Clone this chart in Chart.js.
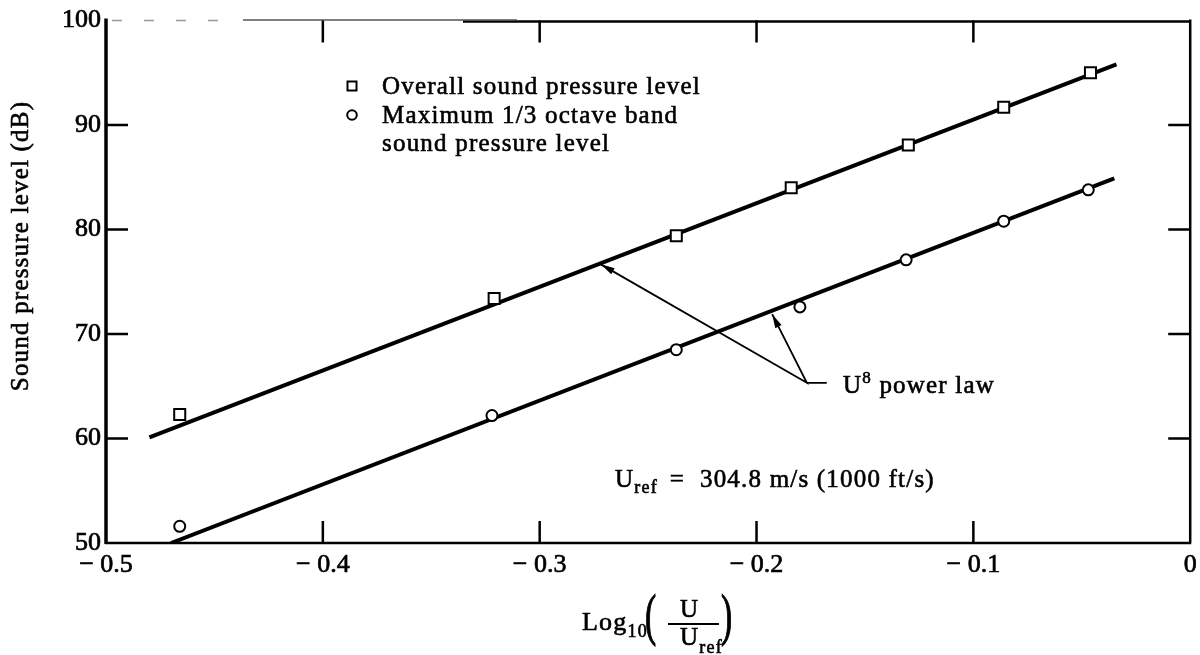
<!DOCTYPE html>
<html>
<head>
<meta charset="utf-8">
<title>Sound pressure level against Log10(U/Uref)</title>
<script src="https://cdn.jsdelivr.net/npm/chart.js@4.4.1/dist/chart.umd.min.js"></script>
<style>
  html, body { margin: 0; padding: 0; background: #fff; }
  #wrap { width: 1200px; height: 655px; }
</style>
</head>
<body>
<div id="wrap"><canvas id="splChart" width="1200" height="655"></canvas></div>
<script>
// values
var overallX = [-0.466, -0.321, -0.237, -0.184, -0.130, -0.086, -0.046];
var overallY = [62.3, 73.4, 79.4, 84.0, 88.1, 91.7, 95.0];
var bandX = [-0.466, -0.322, -0.237, -0.180, -0.131, -0.086, -0.047];
var bandY = [51.6, 62.2, 68.5, 72.6, 77.1, 80.8, 83.8];

// U^8 power law lines, end points
var lawOverallX = [-0.480, -0.034];
var lawOverallY = [60.1, 95.8];
var lawBandX = [-0.470, -0.035];
var lawBandY = [50.0, 84.9];

// pointer lines: tip on upper line, knee, tip on lower line
var arrowX = [-0.2718, -0.1768, -0.1928];
var arrowY = [76.67, 65.33, 71.9];
var stubX = [-0.1768, -0.1676];
var stubY = [65.33, 65.33];

var xTicks = [-0.5, -0.4, -0.3, -0.2, -0.1, 0];
var yTicks = [50, 60, 70, 80, 90, 100];

var SERIF = '"Liberation Serif", "Times New Roman", serif';

function pts(xs, ys) {
  return xs.map(function (x, i) { return { x: x, y: ys[i] }; });
}

// text with a thin outline so it looks as heavy as the printed figure
function txt(ctx, s, x, y, size) {
  ctx.font = size + 'px ' + SERIF;
  ctx.fillText(s, x, y);
  ctx.strokeText(s, x, y);
  return x + ctx.measureText(s).width;
}

// frame, inward ticks, arrow heads and the printed texts
var paperFrame = {
  id: 'paperFrame',
  afterDraw: function (chart) {
    var ctx = chart.ctx, a = chart.chartArea;
    var xs = chart.scales.x, ys = chart.scales.y;
    var i;
    ctx.save();
    ctx.strokeStyle = '#000';
    ctx.fillStyle = '#000';
    ctx.lineCap = 'butt';

    ctx.lineWidth = 3.5;
    ctx.beginPath(); ctx.moveTo(a.left, a.top - 2); ctx.lineTo(a.left, a.bottom + 1); ctx.stroke();
    ctx.lineWidth = 2.5;
    ctx.beginPath();
    ctx.moveTo(a.left - 1, a.bottom); ctx.lineTo(a.right + 1, a.bottom);
    ctx.moveTo(a.right, a.bottom); ctx.lineTo(a.right, a.top - 1);
    ctx.moveTo(a.right + 1, a.top + 1); ctx.lineTo(463, a.top + 1);
    ctx.stroke();
    // worn left part of the top edge
    ctx.lineWidth = 1.5;
    ctx.strokeStyle = '#555';
    ctx.beginPath(); ctx.moveTo(243, a.top - 0.5); ctx.lineTo(517, a.top - 0.5); ctx.stroke();
    ctx.strokeStyle = '#999';
    ctx.setLineDash([10, 22]);
    ctx.beginPath(); ctx.moveTo(112, a.top); ctx.lineTo(230, a.top); ctx.stroke();
    ctx.setLineDash([]);
    ctx.strokeStyle = '#000';

    // inward ticks
    ctx.lineWidth = 2.5;
    ctx.beginPath();
    for (i = 1; i < xTicks.length - 1; i++) {
      var px = xs.getPixelForValue(xTicks[i]);
      ctx.moveTo(px, a.bottom); ctx.lineTo(px, a.bottom - 22);
      ctx.moveTo(px, a.top); ctx.lineTo(px, a.top + 22);
    }
    for (i = 1; i < yTicks.length - 1; i++) {
      var py = ys.getPixelForValue(yTicks[i]);
      ctx.moveTo(a.left, py); ctx.lineTo(a.left + 22, py);
      ctx.moveTo(a.right, py); ctx.lineTo(a.right - 22, py);
    }
    ctx.stroke();

    // arrow heads at both pointer tips
    var kx = xs.getPixelForValue(arrowX[1]), ky = ys.getPixelForValue(arrowY[1]);
    [0, 2].forEach(function (k) {
      var tx = xs.getPixelForValue(arrowX[k]), ty = ys.getPixelForValue(arrowY[k]);
      var ang = Math.atan2(ty - ky, tx - kx);
      ctx.beginPath();
      ctx.moveTo(tx, ty);
      ctx.lineTo(tx - 14 * Math.cos(ang) + 3.5 * Math.sin(ang), ty - 14 * Math.sin(ang) - 3.5 * Math.cos(ang));
      ctx.lineTo(tx - 14 * Math.cos(ang) - 3.5 * Math.sin(ang), ty - 14 * Math.sin(ang) + 3.5 * Math.cos(ang));
      ctx.closePath();
      ctx.fill();
    });

    // legend
    ctx.lineWidth = 2;
    ctx.fillStyle = '#fff';
    ctx.beginPath(); ctx.rect(347.5, 81.5, 9, 9); ctx.fill(); ctx.stroke();
    ctx.beginPath(); ctx.arc(352, 115, 4.8, 0, Math.PI * 2); ctx.fill(); ctx.stroke();
    ctx.fillStyle = '#000';

    ctx.letterSpacing = '1.2px';
    ctx.textAlign = 'left';
    ctx.textBaseline = 'alphabetic';
    ctx.lineWidth = 0.6;

    txt(ctx, 'Overall sound pressure level', 382, 94, 25);
    txt(ctx, 'Maximum 1/3 octave band', 382, 123, 25);
    txt(ctx, 'sound pressure level', 382, 151, 25);

    // U^8 power law
    var cx = txt(ctx, 'U', 843, 393, 25);
    cx = txt(ctx, '8', cx, 383, 17);
    txt(ctx, ' power law', cx, 393, 25);

    // reference speed
    cx = txt(ctx, 'U', 615, 487, 25);
    cx = txt(ctx, 'ref', cx, 493, 18);
    txt(ctx, '  =  304.8 m/s (1000 ft/s)', cx - 3, 487, 25);

    // y axis title
    ctx.save();
    ctx.translate(28, 246);
    ctx.rotate(-Math.PI / 2);
    ctx.textAlign = 'center';
    txt(ctx, 'Sound pressure level (dB)', 0, 0, 25);
    ctx.restore();

    // x axis title: Log10(U / Uref)
    cx = txt(ctx, 'Log', 582, 630, 26);
    cx = txt(ctx, '10', cx, 637, 18);
    ctx.save();
    ctx.lineWidth = 1.2;
    ctx.translate(645, 634);
    ctx.scale(0.6, 1);
    txt(ctx, '(', 0, 0, 56);
    ctx.restore();
    ctx.save();
    ctx.lineWidth = 1.2;
    ctx.translate(721, 634);
    ctx.scale(0.6, 1);
    txt(ctx, ')', 0, 0, 56);
    ctx.restore();
    txt(ctx, 'U', 680, 617, 25);
    ctx.lineWidth = 2;
    ctx.beginPath(); ctx.moveTo(668, 624); ctx.lineTo(719, 624); ctx.stroke();
    ctx.lineWidth = 0.6;
    cx = txt(ctx, 'U', 680, 645, 25);
    txt(ctx, 'ref', cx, 653, 18);

    ctx.restore();
  }
};

new Chart(document.getElementById('splChart'), {
  type: 'scatter',
  data: {
    datasets: [
      {
        label: 'Overall sound pressure level',
        data: pts(overallX, overallY),
        showLine: false,
        pointStyle: 'rect',
        pointRadius: 7.8,
        pointBackgroundColor: '#fff',
        pointBorderColor: '#000',
        pointBorderWidth: 2,
        order: 0
      },
      {
        label: 'Maximum 1/3 octave band sound pressure level',
        data: pts(bandX, bandY),
        showLine: false,
        pointStyle: 'circle',
        pointRadius: 5.5,
        pointBackgroundColor: '#fff',
        pointBorderColor: '#000',
        pointBorderWidth: 2,
        order: 0
      },
      {
        label: 'U^8 power law, overall',
        data: pts(lawOverallX, lawOverallY),
        showLine: true,
        borderColor: '#000',
        borderWidth: 4,
        pointRadius: 0,
        order: 2
      },
      {
        label: 'U^8 power law, 1/3 octave band',
        data: pts(lawBandX, lawBandY),
        showLine: true,
        borderColor: '#000',
        borderWidth: 4,
        pointRadius: 0,
        order: 2
      },
      {
        label: 'pointers',
        data: pts(arrowX, arrowY),
        showLine: true,
        borderColor: '#000',
        borderWidth: 1.8,
        pointRadius: 0,
        order: 1
      },
      {
        label: 'pointer stub',
        data: pts(stubX, stubY),
        showLine: true,
        borderColor: '#000',
        borderWidth: 1.8,
        pointRadius: 0,
        order: 1
      }
    ]
  },
  options: {
    responsive: false,
    animation: false,
    layout: { padding: { top: 18, right: 5, left: 0, bottom: 0 } },
    plugins: {
      legend: { display: false },
      tooltip: { enabled: false }
    },
    scales: {
      x: {
        type: 'linear',
        min: -0.5,
        max: 0,
        afterBuildTicks: function (s) { s.ticks = xTicks.map(function (v) { return { value: v }; }); },
        afterFit: function (s) { s.height = 112; s.paddingLeft = 0; s.paddingRight = 0; },
        grid: { display: false, drawTicks: false },
        border: { display: false },
        ticks: {
          color: '#000',
          textStrokeColor: '#000',
          textStrokeWidth: 0.7,
          font: { family: SERIF, size: 26 },
          padding: 7,
          maxRotation: 0,
          autoSkip: false,
          callback: function (v) { return v === 0 ? '0' : '\u2212 ' + Math.abs(v).toFixed(1); }
        }
      },
      y: {
        type: 'linear',
        min: 50,
        max: 100,
        afterBuildTicks: function (s) { s.ticks = yTicks.map(function (v) { return { value: v }; }); },
        afterFit: function (s) { s.width = 106; },
        grid: { display: false, drawTicks: false },
        border: { display: false },
        ticks: {
          color: '#000',
          textStrokeColor: '#000',
          textStrokeWidth: 0.7,
          font: { family: SERIF, size: 26 },
          padding: 5,
          callback: function (v) { return String(v); }
        }
      }
    }
  },
  plugins: [paperFrame]
});
</script>
</body>
</html>
